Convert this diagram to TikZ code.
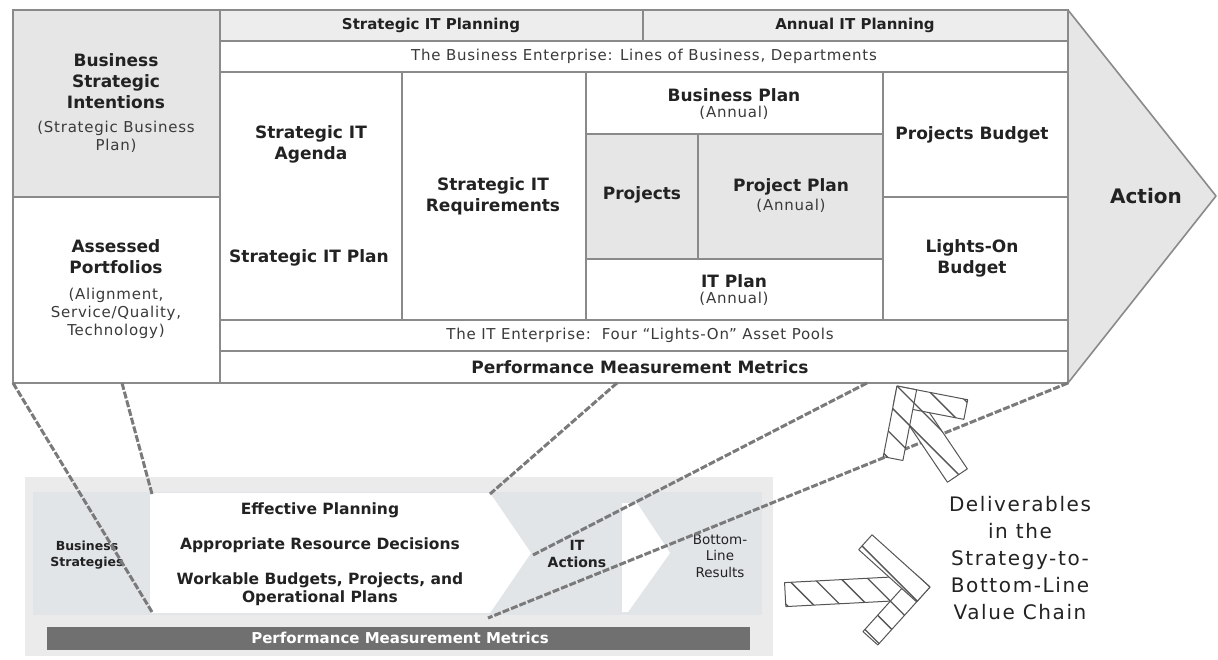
\documentclass[tikz,border=0pt]{standalone}
\usepackage{fontspec}
\setmainfont{DejaVu Sans}
\definecolor{ln}{HTML}{8A8A8A}
\definecolor{g1}{HTML}{E6E6E6}
\definecolor{g2}{HTML}{EDEDED}
\definecolor{txt}{HTML}{222222}
\definecolor{txt2}{HTML}{3A3A3A}
\definecolor{bg}{HTML}{EBEBEB}
\definecolor{bg2}{HTML}{E2E5E8}
\definecolor{bar}{HTML}{707070}
\definecolor{dsh}{HTML}{7A7A7A}
\definecolor{hch}{HTML}{555555}
\newcommand\hatchpiece[2]{%
  \fill[white] #1;
  \begin{scope}\clip #1;
    \foreach \k in {-14,...,14} {\draw[hline, rotate=#2] (-260,\k*19) -- (260,\k*19);}
  \end{scope}
  \draw[houtline] #1;}
\begin{document}
\begin{tikzpicture}[x=1pt,y=-1pt,
  cell/.style={draw=ln, line width=1.6pt},
  bt/.style={font=\fontsize{17}{21}\selectfont\bfseries, text=txt, align=center, inner sep=0pt},
  ht/.style={font=\fontsize{15}{18}\selectfont\bfseries, text=txt, align=center, inner sep=0pt},
  rt/.style={font=\fontsize{15}{18}\selectfont\addfontfeatures{LetterSpace=5}, text=txt2, align=center, inner sep=0pt},
  bb/.style={font=\fontsize{15.5}{18}\selectfont\bfseries, text=txt, align=center, inner sep=0pt},
  dline/.style={draw=dsh, line width=3pt, dash pattern=on 7pt off 2pt},
  hline/.style={draw=hch, line width=1.3pt},
  houtline/.style={draw=hch, line width=1pt, line join=round},
  pics/hatcharrow/.style n args={3}{code={
    \hatchpiece{(-#1,-12) rectangle (-22,12)}{#2}
    \hatchpiece{(0,0) -- ({-0.7071*#3},{0.7071*#3}) -- ({-0.7071*#3-14.14},{0.7071*#3-14.14}) -- (-14.14,-14.14) -- cycle}{#2}
    \hatchpiece{(0,0) -- ({-0.7071*#3},{-0.7071*#3}) -- ({-0.7071*#3-14.14},{-0.7071*#3+14.14}) -- (-14.14,14.14) -- cycle}{#2}
  }}
]
\useasboundingbox (0,0) rectangle (1218,660);

% ---------- main block ----------
\draw[cell, fill=g1, line join=round] (1068,10) -- (1216,196) -- (1068,383) -- cycle;
\draw[cell, fill=white] (13,10) rectangle (1068,383);
\draw[cell, fill=g1] (13,10) rectangle (220,197);
\draw[cell] (13,197) rectangle (220,383);
\draw[cell, fill=g2] (220,10) rectangle (643,41);
\draw[cell, fill=g2] (643,10) rectangle (1068,41);
\draw[cell] (220,41) rectangle (1068,72);
\draw[cell] (220,72) rectangle (402,320);
\draw[cell] (402,72) rectangle (586,320);
\draw[cell] (586,72) rectangle (883,134);
\draw[cell, fill=g1] (586,134) rectangle (698,259);
\draw[cell, fill=g1] (698,134) rectangle (883,259);
\draw[cell] (586,259) rectangle (883,320);
\draw[cell] (883,72) rectangle (1068,197);
\draw[cell] (883,197) rectangle (1068,320);
\draw[cell] (220,320) rectangle (1068,351);
\draw[cell] (220,351) rectangle (1068,383);

\node[ht] (hsp) at (431,25) {Strategic IT Planning};
\node[ht] (hap) at (855,25) {Annual IT Planning};
\node[rt] (ent) at (644,56) {The Business Enterprise: Lines of Business, Departments};
\node[bt] (bsi) at (116,81) {Business\\Strategic\\Intentions};
\node[rt] (sbp) at (116,137) {(Strategic Business\\Plan)};
\node[bt] (ap) at (116,257) {Assessed\\Portfolios};
\node[rt] (asq) at (116,313) {(Alignment,\\Service/Quality,\\Technology)};
\node[bt] (sia) at (311,144) {Strategic IT\\Agenda};
\node[bt] (sip) at (309,258) {Strategic IT Plan};
\node[bt] (sir) at (493,196) {Strategic IT\\Requirements};
\node[bt] (bp) at (734,95) {Business Plan};
\node[rt] (bpa) at (734,113) {(Annual)};
\node[bt] (pr) at (642,195) {Projects};
\node[bt] (pp) at (791,187) {Project Plan};
\node[rt] (ppa) at (791,206) {(Annual)};
\node[bt] (itp) at (734,281) {IT Plan};
\node[rt] (itpa) at (734,299) {(Annual)};
\node[bt] (pb) at (972,135) {Projects Budget};
\node[bt] (lob) at (972,258) {Lights-On\\Budget};
\node[font=\fontsize{20}{24}\selectfont\bfseries, text=txt, inner sep=0pt] (act) at (1146,196) {Action};
\node[rt] (ite) at (640,335) {The IT Enterprise:\ \ Four “Lights-On” Asset Pools};
\node[bt] (pmm) at (640,367) {Performance Measurement Metrics};

% ---------- bottom chain ----------
\fill[bg] (25,477) rectangle (773,656);
\fill[bg2] (33,492) rectangle (762,615);
\fill[white] (150,493) -- (490,493) -- (531,553) -- (490,613) -- (150,613) -- cycle;
\fill[white] (622,503) -- (637,503) -- (670,553) -- (628,612) -- (622,612) -- cycle;
\fill[bar] (47,627) rectangle (750,650);

\node[font=\fontsize{12.5}{16}\selectfont\bfseries, text=txt, align=center, inner sep=0pt] (bs) at (87,555) {Business\\Strategies};
\node[bb] (ep) at (320,510) {Effective Planning};
\node[bb] (ard) at (320,545) {Appropriate Resource Decisions};
\node[bb] (wb) at (320,589) {Workable Budgets, Projects, and\\Operational Plans};
\node[font=\fontsize{14}{17}\selectfont\bfseries, text=txt, align=center, inner sep=0pt] (ita) at (577,554) {IT\\Actions};
\node[font=\fontsize{13.5}{16.5}\selectfont, text=txt, align=center, inner sep=0pt] (blr) at (720,556) {Bottom-\\Line\\Results};
\node[font=\fontsize{15}{18}\selectfont\bfseries, text=white, inner sep=0pt] (pmm2) at (400,638) {Performance Measurement Metrics};

% ---------- dashed connectors ----------
\coordinate (m1) at (13,383);
\coordinate (m2) at (122,383);
\coordinate (m3) at (617,383);
\coordinate (m4) at (867,383);
\coordinate (m5) at (1068,383);
\coordinate (b1) at (152,612);
\coordinate (b2) at (152,494);
\coordinate (b3) at (490,494);
\coordinate (b4) at (533,555);
\coordinate (b5) at (488,618);
\draw[dline] (m1) -- (b1);
\draw[dline] (m2) -- (b2);
\draw[dline] (m3) -- (b3);
\draw[dline] (m4) -- (b4);
\draw[dline] (m5) -- (b5);

% ---------- hatched arrows ----------
\pic[rotate=124] (hup) at (897,386) {hatcharrow={108}{-169}{72}};
\pic[rotate=3] (hright) at (930,587) {hatcharrow={145}{-48}{78}};

\node[font=\fontsize{20}{27}\selectfont\addfontfeatures{LetterSpace=8}, text=txt, align=center, inner sep=0pt] (dlv) at (1020,558) {Deliverables\\in the\\Strategy-to-\\Bottom-Line\\Value Chain};
\end{tikzpicture}
\end{document}
